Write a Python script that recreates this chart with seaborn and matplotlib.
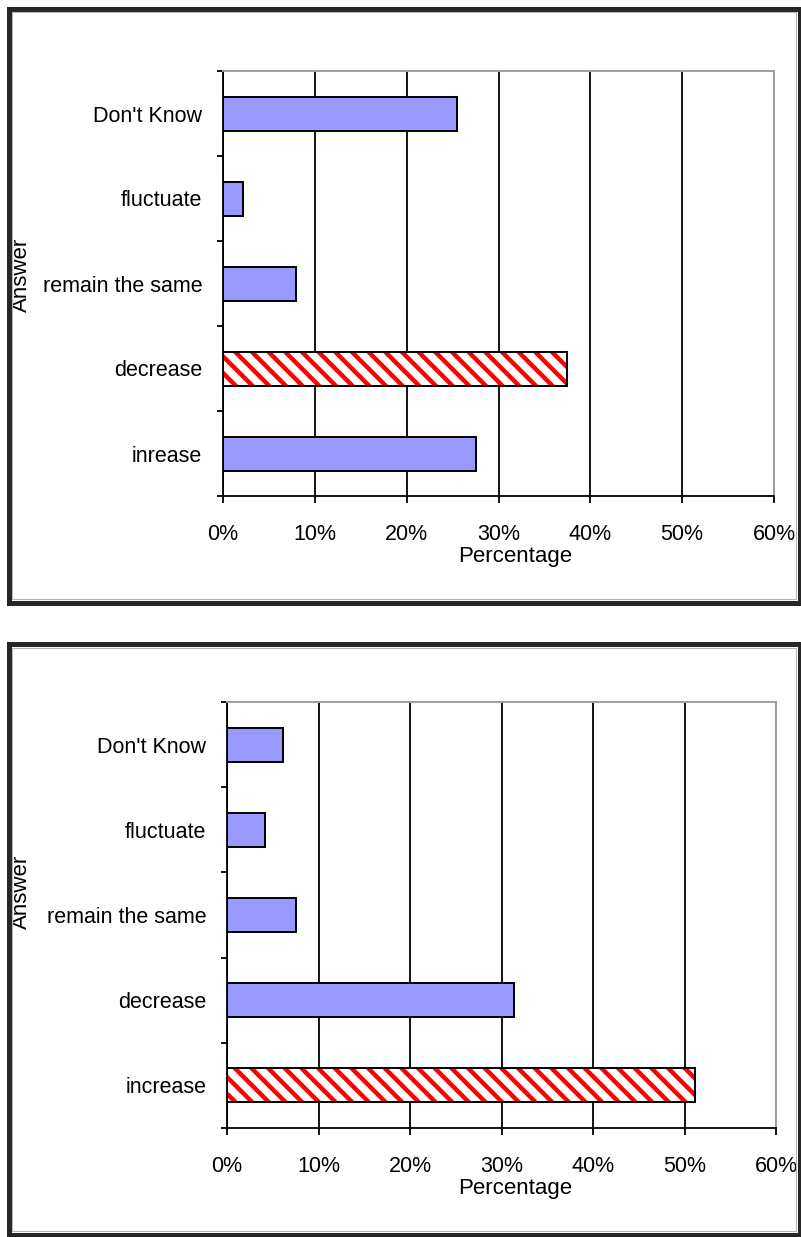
import matplotlib
matplotlib.use("Agg")
import matplotlib.pyplot as plt
import seaborn as sns
import pandas as pd
from matplotlib.patches import Rectangle

# ---------------- data ----------------
answers_top = ["Don't Know", "fluctuate", "remain the same", "decrease", "inrease"]
values_top = [25.5, 2.2, 8.0, 37.5, 27.5]
highlight_top = "decrease"

answers_bottom = ["Don't Know", "fluctuate", "remain the same", "decrease", "increase"]
values_bottom = [6.1, 4.1, 7.5, 31.4, 51.2]
highlight_bottom = "increase"

x_ticks = [0, 10, 20, 30, 40, 50, 60]
x_tick_labels = ["0%", "10%", "20%", "30%", "40%", "50%", "60%"]
x_label = "Percentage"
y_label = "Answer"

# ---------------- style ----------------
sns.set_style("white")
plt.rcParams['font.family'] = ['Liberation Sans', 'DejaVu Sans']
plt.rcParams['hatch.linewidth'] = 3.2

W, H = 801, 1237
fig = plt.figure(figsize=(W / 100, H / 100), dpi=100)
fig.patch.set_facecolor('white')

BAR_COLOR = '#9999FF'


def px_box(x0, y0, x1, y1):
    return [x0 / W, 1 - y1 / H, (x1 - x0) / W, (y1 - y0) / H]


def frame(x0, y0, x1, y1, color, lw):
    fig.patches.append(Rectangle((x0 / W, 1 - y1 / H), (x1 - x0) / W, (y1 - y0) / H,
                                 transform=fig.transFigure, fill=False,
                                 edgecolor=color, linewidth=lw, zorder=0))


def panel(ax_px, outer_px, inner_px, answers, values, highlight, xlab_pos, ylab_pos):
    frame(*outer_px, color='#262626', lw=3.6)
    frame(*inner_px, color='#b5b5b5', lw=0.8)

    ax = fig.add_axes(px_box(*ax_px))
    df = pd.DataFrame({"Answer": answers, "Percentage": values})
    palette = {a: BAR_COLOR for a in answers}
    sns.barplot(data=df, x="Percentage", y="Answer", hue="Answer", order=answers,
                hue_order=answers, palette=palette, saturation=1, width=0.4,
                linewidth=0, errorbar=None, legend=False, ax=ax, zorder=2)
    hi = answers.index(highlight)
    for p in list(ax.patches):
        yc = p.get_y() + p.get_height() / 2
        if abs(yc - hi) < 0.3:
            p.set_facecolor('white')
            p.set_edgecolor('red')
            p.set_hatch('\\\\')
            p.set_linewidth(0)
    # outlines
    sns.barplot(data=df, x="Percentage", y="Answer", order=answers, color='black',
                fill=False, width=0.4, linewidth=1.4, errorbar=None, ax=ax, zorder=3)

    ax.set_xlim(0, 60)
    ax.set_ylim(len(answers) - 0.5, -0.5)
    ax.set_xticks(x_ticks)
    ax.set_xticklabels(x_tick_labels)
    ax.set_yticks(range(len(answers)))
    ax.set_yticklabels(answers)
    ax.set_yticks([i - 0.5 for i in range(len(answers) + 1)], minor=True)

    ax.tick_params(axis='x', which='major', direction='out', length=5, width=1.3,
                   color='black', pad=15, labelsize=15.5, labelcolor='black', bottom=True)
    ax.tick_params(axis='y', which='major', length=0, pad=15, labelsize=15.5,
                   labelcolor='black', left=True)
    ax.tick_params(axis='y', which='minor', direction='out', length=4.5, width=1.3,
                   color='black', left=True)

    ax.xaxis.grid(True, color='black', linewidth=1.3)
    ax.yaxis.grid(False)
    ax.set_axisbelow(True)

    for s in ['left', 'bottom']:
        ax.spines[s].set_color('black')
        ax.spines[s].set_linewidth(1.3)
        ax.spines[s].set_visible(True)
    for s in ['top', 'right']:
        ax.spines[s].set_color('#a0a0a0')
        ax.spines[s].set_linewidth(1.4)
        ax.spines[s].set_visible(True)

    ax.set_xlabel(x_label, fontsize=16, color='black')
    ax.xaxis.set_label_coords(*xlab_pos)
    ax.set_ylabel(y_label, fontsize=16, color='black')
    ax.yaxis.set_label_coords(*ylab_pos)
    return ax


panel((223, 71, 774, 496), (8.5, 8.5, 799.5, 602.5), (12, 12, 796, 599),
      answers_top, values_top, highlight_top,
      (0.53, -0.118), (-0.347, 0.52))

panel((227, 702, 776, 1128), (8.5, 644, 799.5, 1234.5), (12, 648, 796, 1231),
      answers_bottom, values_bottom, highlight_bottom,
      (0.525, -0.118), (-0.355, 0.554))

fig.savefig("out.png", dpi=100, facecolor='white')
